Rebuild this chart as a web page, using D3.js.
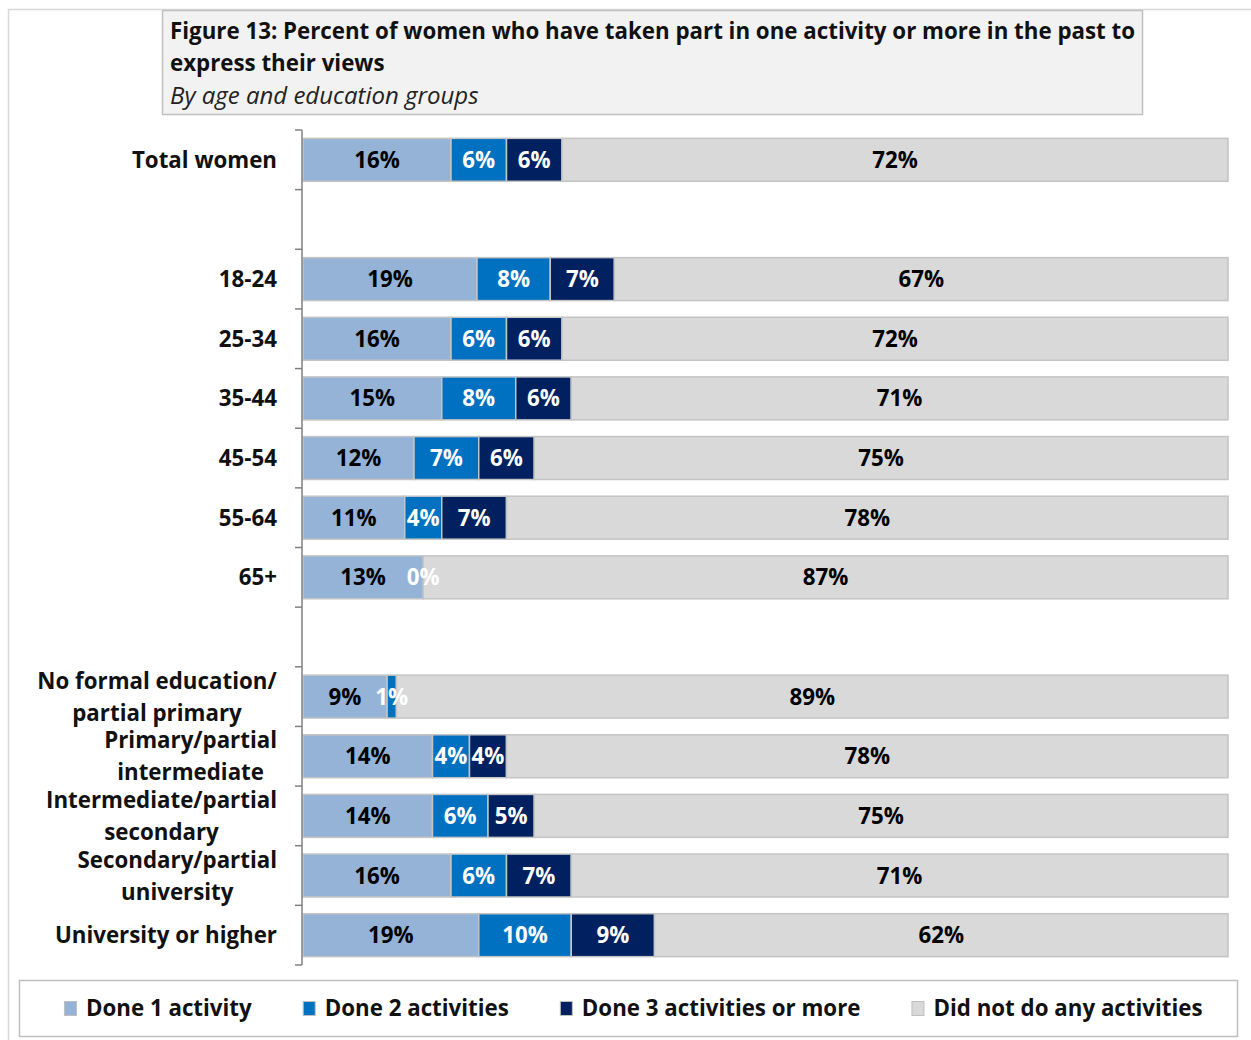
<!DOCTYPE html>
<html>
<head>
<meta charset="utf-8">
<script src="https://cdn.jsdelivr.net/npm/d3@7"></script>
<style>
  body { margin: 0; background: #fff; }
  svg text { font-family: "Open Sans", "Noto Sans", sans-serif; font-weight: bold; }
</style>
</head>
<body>
<div id="chart"></div>
<script>
// rows of the chart, null = empty spacer row
var categories = [
    ["Total women"],
    null,
    ["18-24"], ["25-34"], ["35-44"], ["45-54"], ["55-64"], ["65+"],
    null,
    ["No formal education/", "partial primary"],
    ["Primary/partial", "intermediate"],
    ["Intermediate/partial", "secondary"],
    ["Secondary/partial", "university"],
    ["University or higher"]
];
var done1 = [16, null, 19, 16, 15, 12, 11, 13, null, 9, 14, 14, 16, 19];
var done2 = [6, null, 8, 6, 8, 7, 4, 0, null, 1, 4, 6, 6, 10];
var done3 = [6, null, 7, 6, 6, 6, 7, 0, null, 0, 4, 5, 7, 9];
var doneNone = [72, null, 67, 72, 71, 75, 78, 87, null, 89, 78, 75, 71, 62];

var seriesNames = ["Done 1 activity", "Done 2 activities", "Done 3 activities or more", "Did not do any activities"];
var seriesColors = ["#95b3d7", "#0070c0", "#002060", "#d9d9d9"];
var labelColors = ["#000", "#fff", "#fff", "#000"];

var titleLines = ["Figure 13: Percent of women who have taken part in one activity or more in the past to", "express their views"];
var subtitle = "By age and education groups";

var width = 1251, height = 1040;
var margin = {top: 130, left: 303, right: 23, bottom: 75};
var fs = 22.3;

var svg = d3.select("#chart").append("svg")
    .attr("width", width)
    .attr("height", height);

// outer frame
svg.append("rect")
    .attr("x", 8.5).attr("y", 9.5)
    .attr("width", width).attr("height", height)
    .attr("fill", "none").attr("stroke", "#d9d9d9").attr("stroke-width", 1.5);

// title box
svg.append("rect")
    .attr("x", 162.5).attr("y", 10.5)
    .attr("width", 980).attr("height", 104)
    .attr("fill", "#f2f2f2").attr("stroke", "#c0c0c0").attr("stroke-width", 1.5);
svg.selectAll(".title").data(titleLines).enter().append("text")
    .attr("class", "title")
    .attr("x", 170)
    .attr("y", function (d, i) { return 39 + i * 32; })
    .style("font-size", fs + "px")
    .attr("fill", "#111")
    .text(function (d) { return d; });
svg.append("text")
    .attr("x", 170).attr("y", 104)
    .style("font-size", "24px")
    .style("font-weight", "normal")
    .style("font-style", "italic")
    .attr("fill", "#222")
    .text(subtitle);

// 100% stacked: each row scaled to its own total
var x = d3.scaleLinear().domain([0, 1]).range([margin.left, width - margin.right]);
var y = d3.scaleBand()
    .domain(d3.range(categories.length))
    .range([margin.top, height - margin.bottom])
    .paddingInner(0.28)
    .paddingOuter(0.14);

var rows = categories.map(function (c, i) {
    return {cat: c, vals: [done1[i], done2[i], done3[i], doneNone[i]]};
});
var stackData = [];
rows.forEach(function (r, i) {
    if (!r.cat) return;
    var tot = d3.sum(r.vals), acc = 0;
    r.vals.forEach(function (v, s) {
        stackData.push({row: i, s: s, x0: acc / tot, x1: (acc + v) / tot, v: v});
        acc += v;
    });
});

svg.append("g").selectAll("rect")
    .data(stackData)
    .enter().append("rect")
    .attr("x", function (d) { return x(d.x0); })
    .attr("y", function (d) { return y(d.row); })
    .attr("width", function (d) { return x(d.x1) - x(d.x0); })
    .attr("height", y.bandwidth())
    .attr("fill", function (d) { return seriesColors[d.s]; })
    .attr("stroke", function (d) { return d.v > 0 ? "#c4c4c4" : "none"; })
    .attr("stroke-width", 1.5);

// value labels (zero labels of the dark series are hidden, they overlap)
svg.append("g").selectAll("text")
    .data(stackData.filter(function (d) { return !(d.v === 0 && d.s !== 1); }))
    .enter().append("text")
    .attr("x", function (d) { return x((d.x0 + d.x1) / 2); })
    .attr("y", function (d) { return y(d.row) + y.bandwidth() / 2; })
    .attr("dy", "0.36em")
    .attr("text-anchor", "middle")
    .style("font-size", fs + "px")
    .attr("fill", function (d) { return labelColors[d.s]; })
    .text(function (d) { return d.v + "%"; });

// axis line with ticks on band boundaries
var axis = svg.append("g").attr("stroke", "#808080").attr("stroke-width", 1.5);
axis.append("line")
    .attr("x1", 302).attr("x2", 302)
    .attr("y1", margin.top).attr("y2", height - margin.bottom);
axis.selectAll(".tick").data(d3.range(categories.length + 1)).enter().append("line")
    .attr("x1", 295).attr("x2", 302)
    .attr("y1", function (i) { return margin.top + i * y.step(); })
    .attr("y2", function (i) { return margin.top + i * y.step(); });

// category labels
var catG = svg.append("g").selectAll("g")
    .data(rows.map(function (r, i) { return {lines: r.cat, i: i}; }).filter(function (d) { return d.lines; }))
    .enter().append("g")
    .attr("transform", function (d) { return "translate(277," + (y(d.i) + y.bandwidth() / 2) + ")"; });
catG.each(function (d) {
    var g = d3.select(this);
    var t = g.append("text")
        .style("font-size", fs + "px")
        .attr("fill", "#111");
    var n = d.lines.length;
    d.lines.forEach(function (l, k) {
        t.append("tspan").attr("x", 0)
            .attr("y", (k - (n - 1) / 2) * 32)
            .attr("dy", "0.36em")
            .text(l);
    });
    if (n === 1) {
        t.attr("text-anchor", "end");
    } else {
        // block right aligned, lines centred within it
        var w = t.node().getBBox().width;
        t.attr("text-anchor", "middle");
        t.selectAll("tspan").attr("x", -w / 2);
    }
});

// legend
svg.append("rect")
    .attr("x", 19.5).attr("y", 980.5)
    .attr("width", 1218).attr("height", 56)
    .attr("fill", "#fff").attr("stroke", "#bfbfbf").attr("stroke-width", 1.5);
var leg = svg.append("g");
var lx = 0;
seriesNames.forEach(function (name, s) {
    var it = leg.append("g").attr("transform", "translate(" + lx + ",0)");
    it.append("rect")
        .attr("x", 0.5).attr("y", 1001.5)
        .attr("width", 12).attr("height", 14)
        .attr("fill", seriesColors[s]).attr("stroke", "#bfbfbf");
    var t = it.append("text")
        .attr("x", 22).attr("y", 1008)
        .attr("dy", "0.36em")
        .style("font-size", fs + "px")
        .attr("fill", "#111")
        .text(name);
    lx += 22 + t.node().getComputedTextLength() + 51;
});
var legW = leg.node().getBBox().width;
leg.attr("transform", "translate(" + (633 - legW / 2) + ",0)");
</script>
</body>
</html>
